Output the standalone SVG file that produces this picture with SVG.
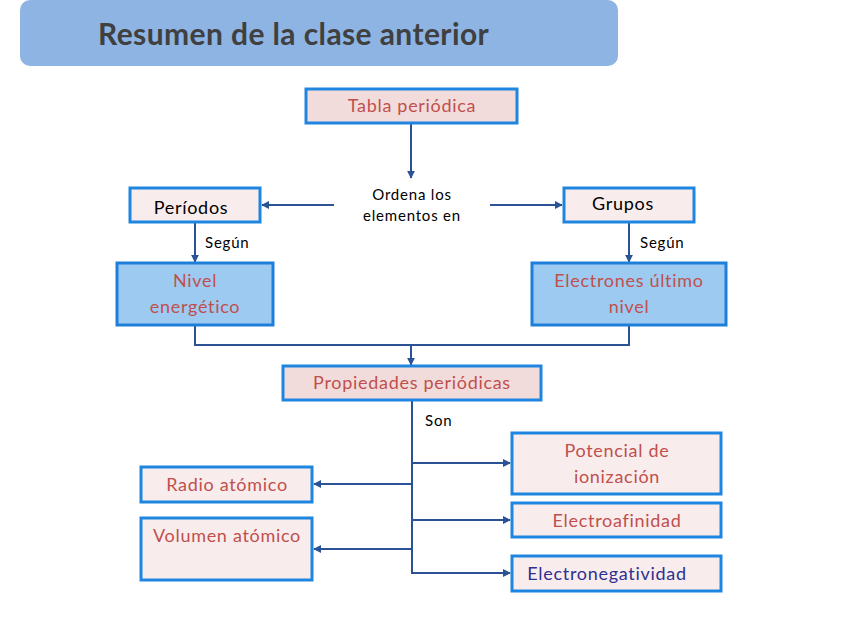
<svg xmlns="http://www.w3.org/2000/svg" width="848" height="636" viewBox="0 0 848 636">
<defs>
<marker id="arr" viewBox="0 0 10 10" refX="9" refY="5" markerWidth="4" markerHeight="4" orient="auto"><path d="M0,0 L10,5 L0,10 z" fill="#2A5294"/></marker>
<style>
.t{font-family:Lato,"Liberation Sans",sans-serif;}
.red{fill:#C0504D;font-size:18px;letter-spacing:0.7px;text-anchor:middle;}
.blk{fill:#000;font-size:18px;letter-spacing:0.7px;text-anchor:middle;}
.lbl{fill:#000;font-size:15px;letter-spacing:0.8px;}
.pink{fill:#F2DCDB;stroke:#1E86E0;stroke-width:3;}
.lpink{fill:#F9ECEC;stroke:#1E86E0;stroke-width:3;}
.blue{fill:#9DCAF1;stroke:#1E7FDA;stroke-width:3;}
.c{fill:none;stroke:#2A5294;stroke-width:2;}
</style>
</defs>
<rect width="848" height="636" fill="#fff"/>
<g id="title">
<rect x="20" y="0" width="598" height="66" rx="10" fill="#8EB4E3"/>
<text class="t" x="98" y="45" font-size="30" letter-spacing="0.4" font-weight="bold" fill="#404040">Resumen de la clase anterior</text>
</g>
<g id="connectors">
<line class="c" x1="411" y1="123" x2="411" y2="178" marker-end="url(#arr)"/>
<line class="c" x1="334" y1="205" x2="262" y2="205" marker-end="url(#arr)"/>
<line class="c" x1="490" y1="205" x2="562" y2="205" marker-end="url(#arr)"/>
<line class="c" x1="195" y1="222" x2="195" y2="262" marker-end="url(#arr)"/>
<line class="c" x1="629" y1="222" x2="629" y2="262" marker-end="url(#arr)"/>
<polyline class="c" points="195,325 195,345 629,345 629,325"/>
<line class="c" x1="411" y1="345" x2="411" y2="365" marker-end="url(#arr)"/>
<line class="c" x1="412" y1="400" x2="412" y2="574"/>
<line class="c" x1="412" y1="463" x2="510" y2="463" marker-end="url(#arr)"/>
<line class="c" x1="412" y1="484" x2="314" y2="484" marker-end="url(#arr)"/>
<line class="c" x1="412" y1="520" x2="510" y2="520" marker-end="url(#arr)"/>
<line class="c" x1="412" y1="549" x2="314" y2="549" marker-end="url(#arr)"/>
<line class="c" x1="411" y1="573" x2="510" y2="573" marker-end="url(#arr)"/>
<text class="t lbl" x="412" y="200" text-anchor="middle">Ordena los</text>
<text class="t lbl" x="412" y="221" text-anchor="middle">elementos en</text>
<text class="t lbl" x="205" y="248">Según</text>
<text class="t lbl" x="640" y="248">Según</text>
<text class="t lbl" x="425" y="426">Son</text>
</g>
<g id="tabla">
<rect class="pink" x="306" y="89" width="211" height="34"/>
<text class="t red" x="412" y="112">Tabla periódica</text>
</g>
<g id="periodos">
<rect class="lpink" x="130" y="188" width="130" height="34"/>
<text class="t blk" x="191" y="214">Períodos</text>
</g>
<g id="grupos">
<rect class="lpink" x="564" y="188" width="130" height="34"/>
<text class="t blk" x="623" y="210">Grupos</text>
</g>
<g id="nivel">
<rect class="blue" x="117" y="263" width="156" height="62"/>
<text class="t red" x="195" y="287">Nivel</text>
<text class="t red" x="195" y="313">energético</text>
</g>
<g id="electrones">
<rect class="blue" x="532" y="263" width="194" height="62"/>
<text class="t red" x="629" y="287">Electrones último</text>
<text class="t red" x="629" y="313">nivel</text>
</g>
<g id="propiedades">
<rect class="pink" x="283" y="366" width="258" height="34"/>
<text class="t red" x="412" y="389">Propiedades periódicas</text>
</g>
<g id="radio">
<rect class="lpink" x="141" y="467" width="171" height="35"/>
<text class="t red" x="227" y="491">Radio atómico</text>
</g>
<g id="volumen">
<rect class="lpink" x="141" y="518" width="171" height="62"/>
<text class="t red" x="227" y="542">Volumen atómico</text>
</g>
<g id="potencial">
<rect class="lpink" x="512" y="433" width="209" height="61"/>
<text class="t red" x="617" y="457">Potencial de</text>
<text class="t red" x="617" y="483">ionización</text>
</g>
<g id="electroafinidad">
<rect class="lpink" x="512" y="503" width="209" height="34"/>
<text class="t red" x="617" y="527">Electroafinidad</text>
</g>
<g id="electronegatividad">
<rect class="lpink" x="512" y="556" width="209" height="35"/>
<text class="t red" x="607" y="580" style="fill:#2E3192">Electronegatividad</text>
</g>
</svg>
